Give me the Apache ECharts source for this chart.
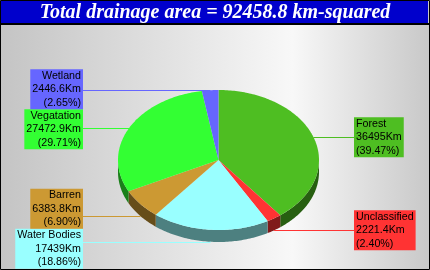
<!DOCTYPE html>
<html><head><meta charset="utf-8">
<script src="https://cdn.jsdelivr.net/npm/echarts@6/dist/echarts.min.js"></script>
<style>html,body{margin:0;padding:0;background:#fff}#c{width:430px;height:270px}</style>
</head><body><div id="c"></div>
<script>
// ---- data ----
const categories = ['Forest', 'Unclassified', 'Water Bodies', 'Barren', 'Vegatation', 'Wetland'];
const values = [36495, 2221.4, 17439, 6383.8, 27472.9, 2446.6];
const colors = ['#4ebe22', '#ff3333', '#99ffff', '#cc9933', '#33ff33', '#6666ff'];
const titleText = 'Total drainage area = 92458.8 km-squared';
const unit = 'Km';

// ---- layout / style constants ----
const PIE = { cx: 218.5, cy: 160, rx: 100.5, ry: 70, depth: 12, labelGap: 35, boxH: 40, top: 26, bottom: 269 };
const LABEL_FONT = '10.7px "Liberation Sans", Arial, sans-serif';

const total = values.reduce((a, b) => a + b, 0);
const TAU = Math.PI * 2;

function darker(hex) {
  const n = parseInt(hex.slice(1), 16);
  const r = (n >> 16) & 255, g = (n >> 8) & 255, b = n & 255;
  const f = v => Math.round(v * 0.5).toString(16).padStart(2, '0');
  return '#' + f(r) + f(g) + f(b);
}
function pt(t, dy) { return [PIE.cx + PIE.rx * Math.sin(t), PIE.cy - PIE.ry * Math.cos(t) + (dy || 0)]; }
function arc(a1, a2, dy) {
  const n = Math.max(2, Math.ceil((a2 - a1) / (Math.PI / 180)));
  const out = [];
  for (let k = 0; k <= n; k++) out.push(pt(a1 + (a2 - a1) * k / n, dy));
  return out;
}

// slices from data
let acc = 0;
const slices = values.map((v, i) => {
  const a1 = acc / total * TAU; acc += v; const a2 = acc / total * TAU;
  const mid = (a1 + a2) / 2;
  const front = Math.cos(mid) < 0;
  const anchor = pt(mid, front ? PIE.depth : 0);
  return { i, a1, a2, mid, left: Math.sin(mid) < 0, ax: anchor[0], ay: anchor[1] };
});

// label layout per side
function layoutSide(items) {
  items.sort((a, b) => a.ay - b.ay);
  const H = PIE.boxH;
  let clusters = items.map(it => ({ items: [it], center: it.ay }));
  let changed = true;
  while (changed) {
    changed = false;
    clusters.forEach(c => {
      const h = c.items.length * H;
      let t = c.center - h / 2;
      if (t < PIE.top) t = PIE.top;
      if (t + h > PIE.bottom) t = PIE.bottom - h;
      c.center = t + h / 2;
    });
    for (let k = 0; k < clusters.length - 1; k++) {
      const c1 = clusters[k], c2 = clusters[k + 1];
      if (c1.center + c1.items.length * H / 2 > c2.center - c2.items.length * H / 2 + 0.01) {
        const its = c1.items.concat(c2.items);
        const center = its.reduce((s, it) => s + it.ay, 0) / its.length;
        clusters.splice(k, 2, { items: its, center });
        changed = true;
        break;
      }
    }
  }
  clusters.forEach(c => {
    let t = c.center - c.items.length * H / 2;
    c.items.forEach(it => { it.boxTop = t; t += H; });
  });
}
layoutSide(slices.filter(s => s.left));
layoutSide(slices.filter(s => !s.left));

function renderItem(params, api) {
  const s = slices[params.dataIndex];
  const color = colors[s.i];
  const children = [];
  // front wall
  const s1 = Math.max(s.a1, Math.PI / 2), s2 = Math.min(s.a2, Math.PI * 1.5);
  if (s2 > s1) {
    const topArc = arc(s1, s2, 0);
    const botArc = arc(s1, s2, PIE.depth).reverse();
    children.push({ type: 'polygon', z2: 0, shape: { points: topArc.concat(botArc) }, style: { fill: darker(color) } });
  }
  // top face
  children.push({ type: 'polygon', z2: 1, shape: { points: [[PIE.cx, PIE.cy]].concat(arc(s.a1, s.a2, 0)) }, style: { fill: color } });
  // connector
  const boxTop = s.boxTop, boxBot = s.boxTop + PIE.boxH;
  let ly = Math.min(Math.max(s.ay, boxTop + 4), boxBot - 4);
  ly = Math.round(ly) + 0.5;
  const edgeX = s.left ? PIE.cx - PIE.rx - PIE.labelGap : PIE.cx + PIE.rx + PIE.labelGap;
  children.push({ type: 'polyline', z2: 2, shape: { points: [[s.ax, s.ay], [s.ax, ly], [edgeX, ly]] }, style: { stroke: color, lineWidth: 1, fill: null } });
  // label
  const pct = (values[s.i] / total * 100).toFixed(2);
  children.push({
    type: 'text', z2: 3,
    style: {
      text: categories[s.i] + '\n' + values[s.i] + unit + '\n(' + pct + '%)',
      x: edgeX, y: boxTop,
      align: s.left ? 'right' : 'left', verticalAlign: 'top',
      fill: '#000', font: LABEL_FONT, lineHeight: 13.33,
      backgroundColor: color, padding: [0, 2, 0, 2]
    }
  });
  return { type: 'group', children };
}

const chart = echarts.init(document.getElementById('c'));
chart.setOption({
  animation: false,
  title: {
    text: titleText, left: 'center', top: 2, padding: 0,
    textStyle: { color: '#fff', fontFamily: '"Liberation Serif", "Times New Roman", serif', fontStyle: 'italic', fontWeight: 'bold', fontSize: 20, lineHeight: 22 }
  },
  graphic: [
    { type: 'rect', z: -10, shape: { x: 0.5, y: 0.5, width: 429, height: 269 },
      style: { fill: new echarts.graphic.LinearGradient(0, 0, 1, 0, [
        { offset: 0, color: '#c4c4c4' }, { offset: 0.68, color: '#f8f8f8' }, { offset: 1, color: '#c8c8c8' }]),
        stroke: '#000', lineWidth: 1 } },
    { type: 'rect', z: -9, shape: { x: 1, y: 1, width: 427, height: 22 }, style: { fill: '#0000cc' } },
    { type: 'rect', z: -9, shape: { x: 1, y: 23, width: 428, height: 2 }, style: { fill: '#000' } }
  ],
  series: [{
    type: 'custom', coordinateSystem: 'none', silent: true,
    data: values.map((v, i) => ({ name: categories[i], value: v })),
    renderItem
  }]
});
</script></body></html>
